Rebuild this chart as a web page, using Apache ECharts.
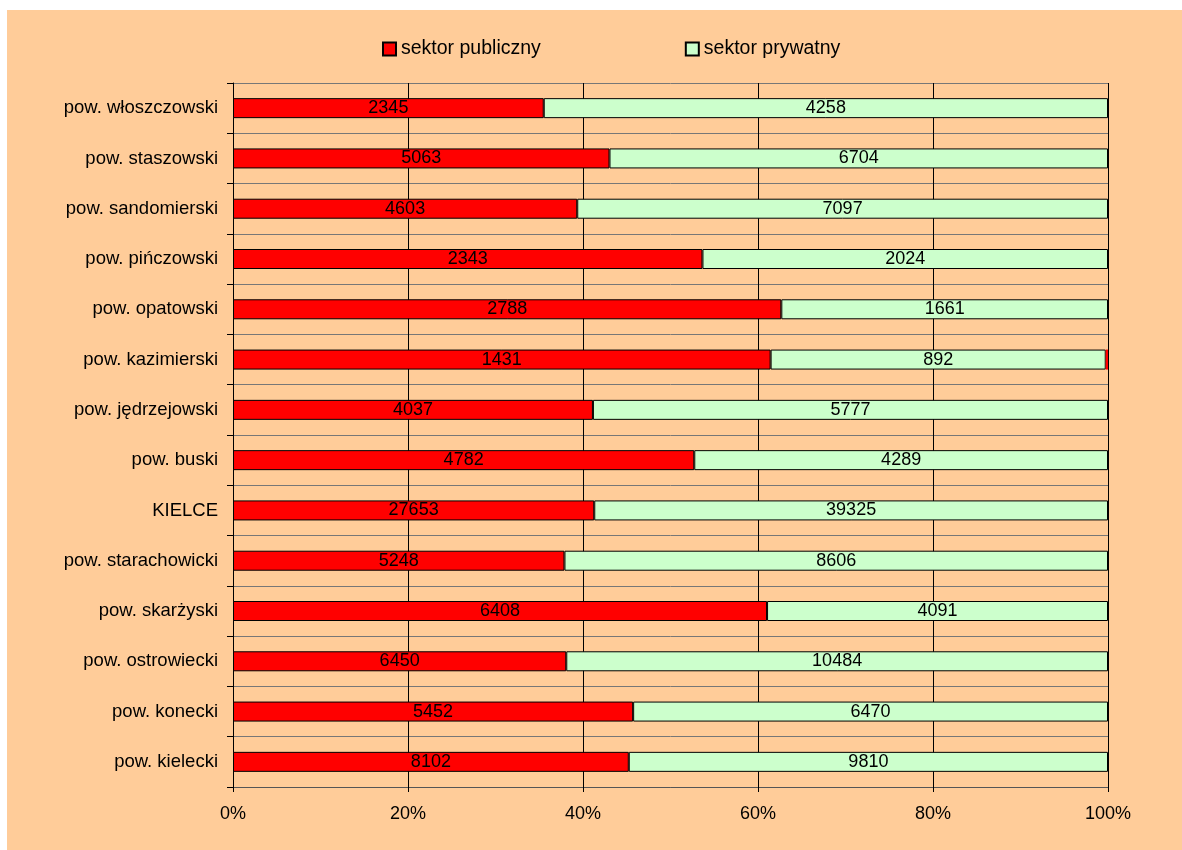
<!DOCTYPE html>
<html>
<head>
<meta charset="utf-8">
<script src="https://cdn.jsdelivr.net/npm/echarts@6/dist/echarts.min.js"></script>
<style>
html,body{margin:0;padding:0;background:#fff;}
#c{width:1182px;height:850px;}
</style>
</head>
<body>
<div id="c"></div>
<script>
const categories = ['pow. kielecki','pow. konecki','pow. ostrowiecki','pow. skarżyski','pow. starachowicki','KIELCE','pow. buski','pow. jędrzejowski','pow. kazimierski','pow. opatowski','pow. pińczowski','pow. sandomierski','pow. staszowski','pow. włoszczowski'];
const publiczny = [8102,5452,6450,6408,5248,27653,4782,4037,1431,2788,2343,4603,5063,2345];
const prywatny = [9810,6470,10484,4091,8606,39325,4289,5777,892,1661,2024,7097,6704,4258];
const inne = [0,0,0,0,0,0,0,0,6,0,0,0,0,0];
const xTicks = [0,20,40,60,80,100];

const totals = categories.map((_, i) => publiczny[i] + prywatny[i] + inne[i]);
const pct = arr => arr.map((v, i) => ({value: v / totals[i] * 100, raw: v}));

const font = 'Liberation Sans, Arial, sans-serif';
const chart = echarts.init(document.getElementById('c'));
const labelCfg = {
  show: true, position: 'inside', color: '#000', fontSize: 18, fontFamily: font,
  formatter: p => p.data.raw
};
chart.setOption({
  backgroundColor: '#fff',
  animation: false,
  graphic: [{type: 'rect', z: -10, shape: {x: 7, y: 10, width: 1175, height: 840}, style: {fill: '#FFCC99'}}],
  legend: {
    data: ['sektor publiczny', 'sektor prywatny'],
    left: 382, top: 39, itemWidth: 13, itemHeight: 13, itemGap: 144, padding: 0,
    icon: 'rect',
    textStyle: {fontSize: 19.5, fontFamily: font, color: '#000'}
  },
  grid: {left: 233, top: 83, width: 875, height: 704, containLabel: false},
  xAxis: {
    type: 'value', min: 0, max: 100, interval: 20,
    axisLine: {show: true, lineStyle: {color: '#555', width: 1}},
    axisTick: {show: true, length: 5, lineStyle: {color: '#000'}},
    axisLabel: {formatter: v => v + '%', fontSize: 18, fontFamily: font, color: '#000', margin: 18},
    splitLine: {show: true, lineStyle: {color: '#000', width: 1}}
  },
  yAxis: {
    type: 'category', data: categories,
    axisLine: {show: true, lineStyle: {color: '#000', width: 1}},
    axisTick: {show: true, length: 6, lineStyle: {color: '#000'}},
    axisLabel: {fontSize: 18.5, fontFamily: font, color: '#000', margin: 15},
    splitLine: {show: true, lineStyle: {color: '#777', width: 1}}
  },
  series: [
    {name: 'sektor publiczny', type: 'bar', stack: 's', barWidth: 20, data: pct(publiczny),
     itemStyle: {color: '#FF0000', borderColor: '#000', borderWidth: 1}, label: labelCfg},
    {name: 'sektor prywatny', type: 'bar', stack: 's', barWidth: 20, data: pct(prywatny),
     itemStyle: {color: '#CCFFCC', borderColor: '#000', borderWidth: 1}, label: labelCfg},
    {name: 'inne', type: 'bar', stack: 's', barWidth: 20, data: pct(inne),
     itemStyle: {color: '#FF0000', borderWidth: 0}, label: {show: false}}
  ]
});
</script>
</body>
</html>
